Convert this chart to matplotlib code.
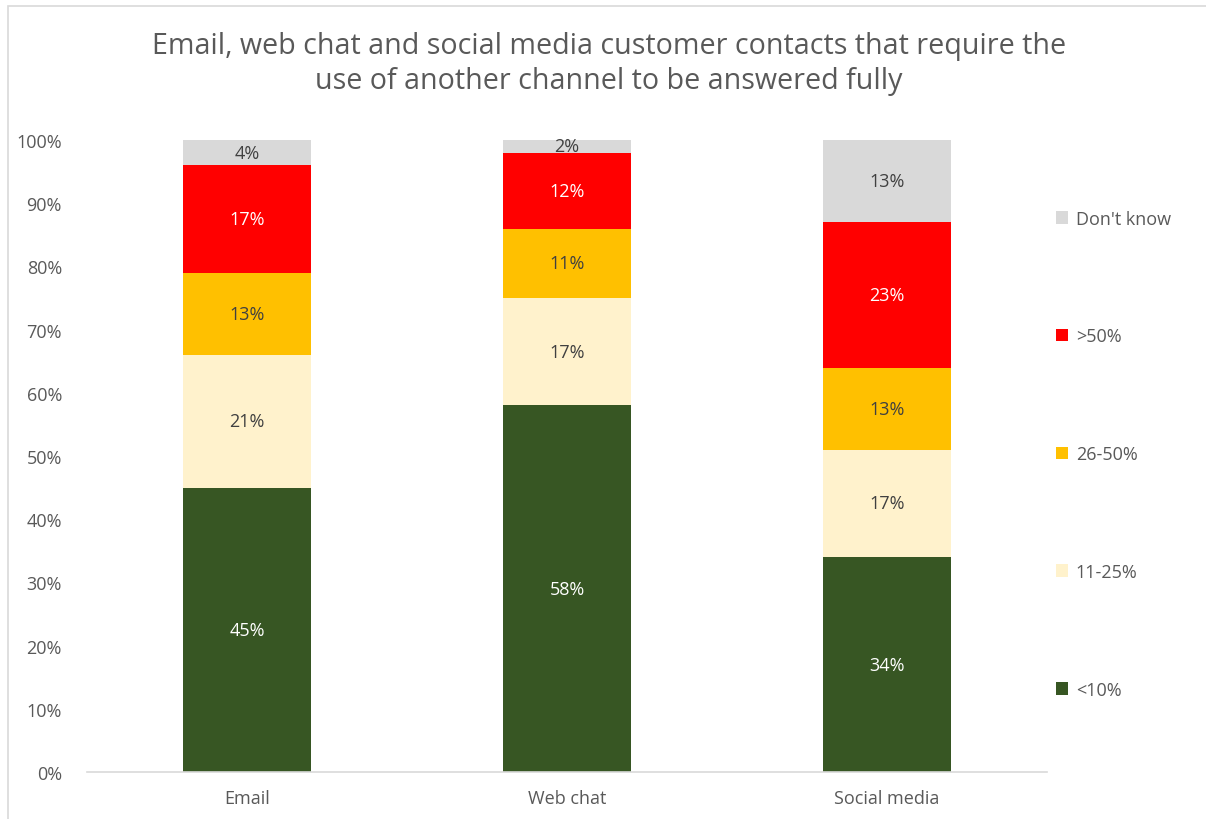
import numpy as np
import matplotlib
matplotlib.use("Agg")
from matplotlib import pyplot as plt
from matplotlib.patches import Rectangle

plt.rcParams['font.family'] = ['Open Sans', 'DejaVu Sans']

channels = ['Email', 'Web chat', 'Social media']
bands = ['<10%', '11-25%', '26-50%', '>50%', "Don't know"]
shares = {
    '<10%': [45, 58, 34],
    '11-25%': [21, 17, 17],
    '26-50%': [13, 11, 13],
    '>50%': [17, 12, 23],
    "Don't know": [4, 2, 13],
}
colours = ['#375623', '#FFF2CC', '#FFC000', '#FF0000', '#D9D9D9']
label_colours = ['white', '#404040', '#404040', 'white', '#404040']

TEXT = '#595959'

fig = plt.figure(figsize=(12.06, 8.2), dpi=100)
ax = fig.add_axes([0.0721, 0.0573, 0.7960, 0.7707])

x = np.arange(len(channels))
bottom = np.zeros(len(channels))
handles = []
for band, col, lcol in zip(bands, colours, label_colours):
    vals = np.array(shares[band], dtype=float)
    bars = ax.bar(x, vals, 0.4, bottom=bottom, color=col, label=band)
    handles.append(bars)
    for xi, b, v in zip(x, bottom, vals):
        ax.text(xi, b + v / 2, f'{int(v)}%', ha='center', va='center',
                fontsize=13, color=lcol)
    bottom += vals

ax.set_xlim(-0.5, 2.5)
ax.set_ylim(0, 100)
ax.set_yticks(np.arange(0, 101, 10))
ax.set_yticklabels([f'{v}%' for v in range(0, 101, 10)])
ax.set_xticks(x)
ax.set_xticklabels(channels)
ax.tick_params(axis='both', length=0, labelsize=13, colors=TEXT)
ax.tick_params(axis='y', pad=18)
ax.tick_params(axis='x', pad=12)
for side in ['top', 'right', 'left']:
    ax.spines[side].set_visible(False)
ax.spines['bottom'].set_color('#D9D9D9')
ax.spines['bottom'].set_linewidth(1.2)

fig.text(0.505, 0.922, 'Email, web chat and social media customer contacts that require the\n'
         'use of another channel to be answered fully',
         ha='center', va='center', fontsize=20.6, color=TEXT, linespacing=1.3)

leg = fig.legend(handles[::-1], bands[::-1], loc='upper left',
                 bbox_to_anchor=(0.862, 0.763), frameon=False, fontsize=13,
                 handlelength=0.7, handleheight=0.7, handletextpad=0.4,
                 labelspacing=5.53)
for t in leg.get_texts():
    t.set_color(TEXT)

# thin frame round the whole chart
fig.patches.append(Rectangle((8 / 1206, -0.1), 1.2, 1.1 - 7 / 820,
                             transform=fig.transFigure, fill=False,
                             edgecolor='#D9D9D9', linewidth=1.2))

fig.savefig('out.png', dpi=100)
